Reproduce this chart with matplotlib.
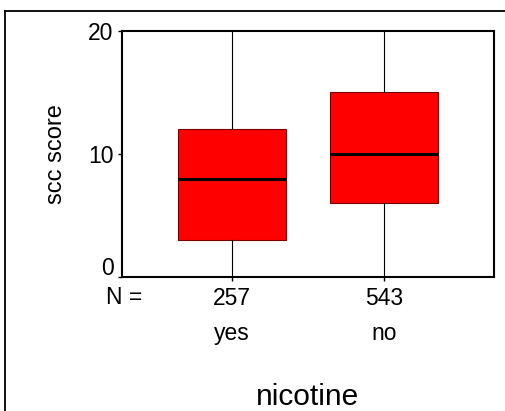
import matplotlib
matplotlib.use("Agg")
import matplotlib.pyplot as plt
from matplotlib.lines import Line2D
from matplotlib.transforms import ScaledTranslation

plt.rcParams["font.family"] = ["Liberation Sans", "DejaVu Sans"]

# data
categories = ["yes", "no"]
counts = [257, 543]
whisker_low = [0, 0]
q1 = [3, 6]
medians = [8, 10]
q3 = [12, 15]
whisker_high = [20, 20]

stats = []
for i in range(len(categories)):
    stats.append({"label": categories[i], "whislo": whisker_low[i], "q1": q1[i],
                  "med": medians[i], "q3": q3[i], "whishi": whisker_high[i], "fliers": []})

fig = plt.figure(figsize=(5.05, 4.11), dpi=100)
ax = fig.add_axes([122 / 505, 1 - 277 / 411, 372 / 505, 246 / 411])

positions = list(range(1, len(categories) + 1))
ax.bxp(stats, positions=positions, widths=0.71, showcaps=False, patch_artist=True,
       boxprops=dict(facecolor="#ff0000", edgecolor="#7a0000", linewidth=0.8),
       medianprops=dict(color="black", linewidth=2.2),
       whiskerprops=dict(color="black", linewidth=0.8))

ax.set_xlim(0.276, 2.724)
ax.set_ylim(0, 20)
ax.set_yticks([0, 10, 20])
ax.set_xticks(positions)
ax.set_xticklabels([str(c) for c in counts])
ax.tick_params(axis="both", labelsize=16.5, length=3, width=1, direction="out")
ax.tick_params(axis="x", pad=4)
ax.tick_params(axis="y", pad=3)
for s in ax.spines.values():
    s.set_linewidth(1.5)

# the "0" label sits a little above its tick, clear of "N ="
zero_label = ax.yaxis.get_major_ticks()[0].label1
zero_label.set_transform(zero_label.get_transform() + ScaledTranslation(0, 0.11, fig.dpi_scale_trans))

ax.set_ylabel("scc score", fontsize=17, labelpad=15)

ax.annotate("N =", xy=(0, 0), xycoords="axes fraction", xytext=(14.4, -19.5),
            textcoords="offset points", ha="right", va="baseline", fontsize=16.5)
for p, cat in zip(positions, categories):
    ax.annotate(cat, xy=(p, 0), xycoords=("data", "axes fraction"), xytext=(0, -45.4),
                textcoords="offset points", ha="center", va="baseline", fontsize=16.5)
ax.annotate("nicotine", xy=(0.5, 0), xycoords="axes fraction", xytext=(0, -92),
            textcoords="offset points", ha="center", va="baseline", fontsize=21.5)

# outer frame (left and top edges visible)
fig.add_artist(Line2D([5 / 505, 5 / 505], [0, 1 - 11 / 411], transform=fig.transFigure,
                      color="black", linewidth=1.3))
fig.add_artist(Line2D([5 / 505, 1], [1 - 11 / 411, 1 - 11 / 411], transform=fig.transFigure,
                      color="black", linewidth=1.3))

fig.savefig("out.png", dpi=100)
